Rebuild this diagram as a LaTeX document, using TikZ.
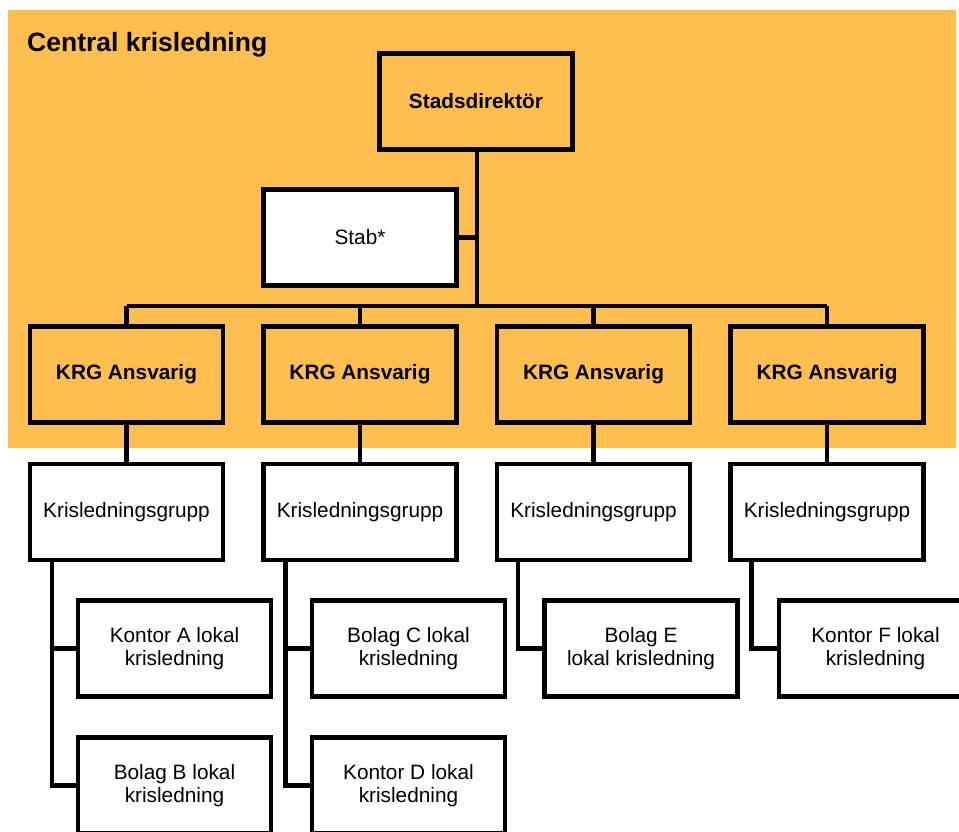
\documentclass[tikz,border=0pt]{standalone}
\usepackage{fontspec}
\setmainfont{Liberation Sans}
\definecolor{krisorange}{RGB}{255,190,80}
\tikzset{
  box/.style={draw=black, line width=4.5pt, rectangle, inner sep=0pt, outer sep=0pt,
    minimum width=193pt, minimum height=96pt, align=center,
    font=\fontsize{20.8}{23.5}\selectfont},
  orangebox/.style={box, fill=krisorange, font=\fontsize{20.8}{23.5}\selectfont\bfseries},
  whitebox/.style={box, fill=white},
  conn/.style={draw=black, line width=4.5pt}
}
\begin{document}
\begin{tikzpicture}[x=1pt,y=-1pt]
\clip (0,0) rectangle (959,832);
\fill[white] (0,0) rectangle (959,832);
\fill[krisorange] (8,10) rectangle (956,448);
\node[anchor=base west, inner sep=0pt, font=\fontsize{26.5}{30}\selectfont\bfseries] (title) at (27,52) {Central krisledning};

\node[orangebox] (sd) at (476,101.5) {Stadsdirektör};
\node[whitebox] (stab) at (360,237.5) {Stab*};

\node[orangebox] (k1) at (126.5,374.5) {KRG Ansvarig};
\node[orangebox] (k2) at (360,374.5) {KRG Ansvarig};
\node[orangebox] (k3) at (593.5,374.5) {KRG Ansvarig};
\node[orangebox] (k4) at (827,374.5) {KRG Ansvarig};

\node[whitebox] (g1) at (126.5,512) {Krisledningsgrupp};
\node[whitebox] (g2) at (360,512) {Krisledningsgrupp};
\node[whitebox] (g3) at (593.5,512) {Krisledningsgrupp};
\node[whitebox] (g4) at (827,512) {Krisledningsgrupp};

\node[whitebox] (ka) at (174.5,648.5) {Kontor A lokal\\krisledning};
\node[whitebox] (bb) at (174.5,785.5) {Bolag B lokal\\krisledning};
\node[whitebox] (bc) at (408.5,648.5) {Bolag C lokal\\krisledning};
\node[whitebox] (kd) at (408.5,785.5) {Kontor D lokal\\krisledning};
\node[whitebox] (be) at (641,648.5) {Bolag E\\lokal krisledning};
\node[whitebox] (kf) at (875.5,648.5) {Kontor F lokal\\krisledning};

\coordinate (bus) at (477,306);
\coordinate (sdb) at ([xshift=1pt]sd.south);
\draw[conn] (sdb) -- (sdb |- bus);
\draw[conn] (stab.east) -- (stab.east -| sdb);
\draw[conn] (k1.north |- bus) -- (k4.north |- bus);
\foreach \k in {k1,k2,k3,k4}{\draw[conn] (\k.north) -- (\k.north |- bus);}
\draw[conn] (k1.south) -- (g1.north);
\draw[conn] (k2.south) -- (g2.north);
\draw[conn] (k3.south) -- (g3.north);
\draw[conn] (k4.south) -- (g4.north);

\coordinate (c1) at ([xshift=22pt]g1.south west);
\coordinate (c2) at ([xshift=22pt]g2.south west);
\coordinate (c3) at ([xshift=21pt]g3.south west);
\coordinate (c4) at ([xshift=21pt]g4.south west);
\draw[conn] (c1) |- (bb.west);
\draw[conn] (c1 |- ka.west) -- (ka.west);
\draw[conn] (c2) |- (kd.west);
\draw[conn] (c2 |- bc.west) -- (bc.west);
\draw[conn] (c3) |- (be.west);
\draw[conn] (c4) |- (kf.west);
\end{tikzpicture}
\end{document}
